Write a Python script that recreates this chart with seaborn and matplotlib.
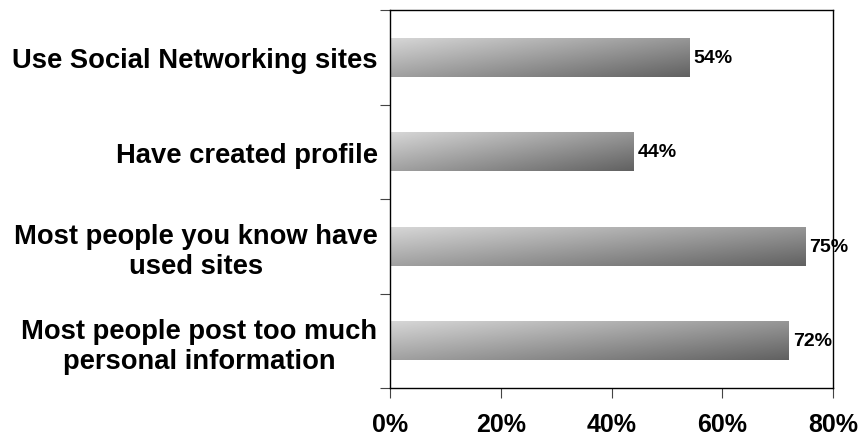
import numpy as np
import pandas as pd
import matplotlib
matplotlib.use("Agg")
import matplotlib.pyplot as plt
import seaborn as sns

categories = [
    "Use Social Networking sites",
    "Have created profile",
    "Most people you know have\nused sites",
    "Most people post too much\npersonal information",
]
values = [54, 44, 75, 72]
xticks = [0, 20, 40, 60, 80]

data = pd.DataFrame({"label": categories, "pct": values})

sns.set_style("white")
plt.rcParams["font.family"] = ["Liberation Sans", "DejaVu Sans"]
plt.rcParams["font.weight"] = "bold"
plt.rcParams["text.color"] = "black"
plt.rcParams["xtick.labelcolor"] = "black"
plt.rcParams["ytick.labelcolor"] = "black"

fig = plt.figure(figsize=(8.65, 4.39), dpi=100)
ax = fig.add_axes([390 / 865, 1 - 389 / 439, 443 / 865, 378 / 439])

sns.barplot(data=data, x="pct", y="label", color="#999999", width=0.41, ax=ax)

# diagonal grey gradient on each bar, light top-left -> dark bottom-right
nx, ny = 200, 40
xf = np.linspace(0, 1, nx)[None, :]
yf = np.linspace(0, 1, ny)[:, None]
grad = 0.84 - 0.25 * xf - 0.21 * yf
for patch in ax.patches:
    x0, y0 = patch.get_x(), patch.get_y()
    w, h = patch.get_width(), patch.get_height()
    im = ax.imshow(grad, cmap="gray", vmin=0, vmax=1, aspect="auto",
                   extent=[x0, x0 + w, y0 + h, y0], interpolation="bilinear",
                   zorder=patch.get_zorder() + 0.1)
    im.set_clip_path(patch)
    patch.set_edgecolor("none")

for c in ax.containers:
    ax.bar_label(c, labels=[f"{v}%" for v in values], padding=3,
                 fontsize=14, fontweight="bold", color="black")

ax.set_xlim(0, 80)
ax.set_ylim(3.5, -0.5)
ax.set_xticks(xticks)
ax.set_xticklabels([f"{t}%" for t in xticks], fontsize=18, fontweight="bold")
ax.set_yticks(np.arange(len(categories)))
ax.set_yticklabels(categories, fontsize=19.7, fontweight="bold", multialignment="center")
ax.tick_params(axis="y", length=0, pad=9)
ax.set_yticks(np.arange(-0.5, len(categories), 1), minor=True)
ax.tick_params(axis="y", which="minor", length=7, width=0.8, color="#444444", direction="out", left=True)
ax.tick_params(axis="x", length=7, width=0.8, color="#444444", direction="out", bottom=True, pad=10)
ax.set_xlabel("")
ax.set_ylabel("")
for s in ax.spines.values():
    s.set_visible(True)
    s.set_color("black")
    s.set_linewidth(1.0)

fig.savefig("out.png", dpi=100)
